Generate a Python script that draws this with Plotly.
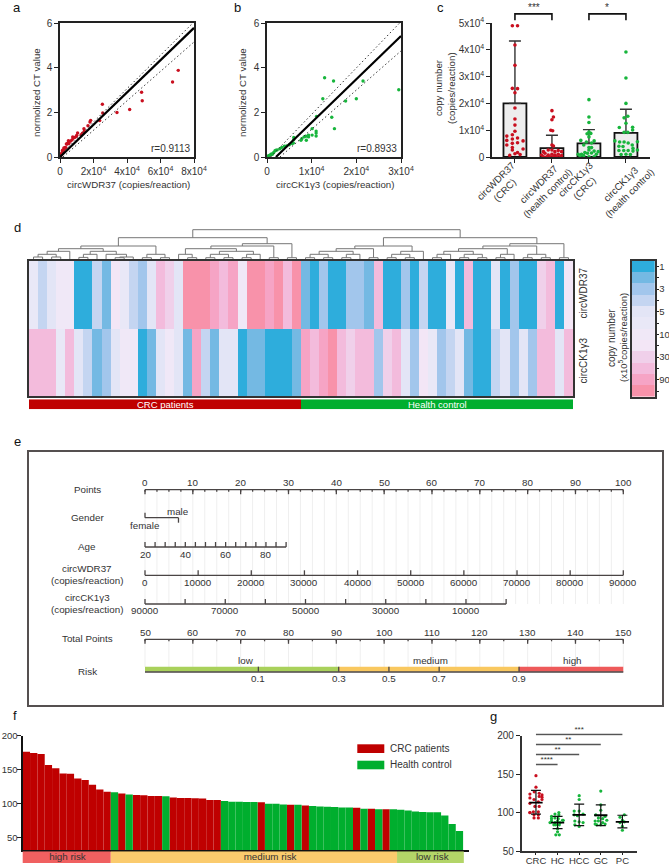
import plotly.graph_objects as go

W, H = 669, 866
FONT = "Liberation Sans"
TXT = "#333333"
LINE = "#222222"
RED = "#C90F1F"
GREEN = "#17B53C"
BAR_RED = "#BF0000"
BAR_GREEN = "#00AE2E"

# ---------- panel a / b ----------
a_x = [70600,67200,48700,49100,41600,34000,25300,25500,23700,18300,17900,16700,14300,14500,13400,12600,10500,10000,9700,9000,8000,7600,7300,6500,5800,5300,5000,4600,4200,3800,3500,3000,2600,2300,2000,1800,1500,1300,1000,800,600,400,300,200,100]
a_y = [3.88,3.36,2.9,2.52,2.13,1.99,2.36,1.97,1.63,1.64,1.57,1.4,1.27,1.15,1.07,1.0,1.08,0.97,0.93,0.88,0.85,0.9,0.78,0.72,0.7,0.6,0.73,0.62,0.58,0.58,0.42,0.43,0.36,0.4,0.3,0.25,0.3,0.2,0.15,0.12,0.1,0.08,0.05,0.03,0.02]
a_fit_x, a_fit_y = [0, 80000], [0, 5.78]
a_hi_x, a_hi_y = [0, 80000], [0.07, 6.05]
a_lo_x, a_lo_y = [1800, 80000], [0, 5.15]

b_x = [29500,12900,14900,21500,12500,17600,20000,14500,15100,11100,10100,11000,11000,11000,10100,9300,9300,8700,8800,8300,7600,7800,6000,6000,5900,5600,5000,4400,3900,3300,2900,2300,1800,1500,1000,800,500,200,2000,1200]
b_y = [3.01,3.55,3.4,3.4,2.61,2.51,2.61,1.78,1.27,1.82,1.27,1.16,1.07,0.94,0.98,0.98,0.9,0.93,0.75,0.9,0.75,0.82,0.78,0.87,0.63,0.6,0.55,0.5,0.48,0.43,0.37,0.32,0.28,0.2,0.14,0.1,0.07,0.04,0.3,0.12]
b_fit_x, b_fit_y = [2000, 30000], [0, 5.42]
b_hi_x, b_hi_y = [800, 29600], [0, 5.98]
b_lo_x, b_lo_y = [2900, 30000], [0, 4.75]

# ---------- panel c ----------
c_cats = ["circWDR37<br>(CRC)", "circWDR37<br>(health control)", "circCK1γ3<br>(CRC)", "circCK1γ3<br>(health control)"]
c_means = [20000, 3300, 5100, 9000]
c_err = [23300, 4800, 5100, 8800]
c1_v = [49000,49000,41800,34200,25600,25500,24000,18300,14200,11900,9600,8300,7800,7100,6000,6200,6700,5100,5300,4500,3500,2600,3000,1700,1200,900,600]
c1_d = [-.07,.07,0,0,-.07,.07,0,0,0,0,0,-.07,-.22,.07,.22,-.22,-.07,-.07,.07,-.22,-.07,-.07,.22,.07,0,.14,-.14]
c2_v = [17300,14900,13900,10000,9800,4500,4100,2600,2600,2000,2000,2400,2000,750,1400,750,1000,750,1000,500,120,120,120,120,120,120]
c2_d = [0,.04,0,-.03,.02,0,.04,-.1,0,-.23,.08,.17,.26,-.28,-.19,-.1,0,.08,.17,.26,-.23,-.14,-.05,.04,.13,.22]
c3_v = [21400,14900,12900,9300,8700,8800,7500,6200,5600,5200,6000,4500,3500,3500,1700,2600,2200,2000,1000,1000,1400,1500,1000,120,120,120,500]
c3_d = [0,0,0,0,-.05,.05,0,-.22,-.07,.07,.14,-.14,0,.07,-.11,0,.14,.25,-.29,-.2,-.04,.07,.2,0,.14,-.24,-.14]
c4_v = [39200,29500,20000,15200,14600,12600,11000,11100,10100,9200,9200,6000,5600,5600,5200,5700,4500,4000,3900,3200,2600,2400,2400,2400,2200,900,1000,900]
c4_d = [0,0,0,.05,-.05,0,-.18,.18,.18,-.05,.05,-.3,-.17,-.05,.06,.31,.17,-.19,-.08,.19,.31,-.19,-.06,.06,.19,-.13,0,.12]
c_sig = [(0, 1, "***"), (2, 3, "*")]

# ---------- panel d ----------
d_rows = ["circWDR37", "circCK1γ3"]
d_wdr = [5,3,4,6,6,0,0,3,1,7,5,3,2,4,9,8,4,11,11,11,10,9,10,6,11,11,10,11,9,11,
         1,0,2,0,0,2,2,1,9,0,0,2,0,3,0,0,5,0,9,0,0,4,0,2,0,0,8,9,0,7]
d_ck = [9,9,9,5,9,4,3,1,2,4,6,6,0,1,4,6,4,1,10,3,1,4,4,0,1,1,0,0,0,1,
        10,9,10,11,9,8,9,9,2,8,9,4,2,7,5,2,3,4,1,0,0,3,4,2,4,2,9,9,4,9]
d_colors = ["#2EADDC","#74B9E3","#A2C6EC","#C4D5F1","#E3E5F6","#E9E8F7","#F0E8F7","#F3E6F6","#F0D0EA","#F3BBDC","#F6A4C5","#F892AA"]
d_scale_vals = [0,2,4,6,8,10]
d_scale_labels = ["1","3","5","10","30","90"]
d_scale_minor = [1,3,5,7,9,11]
# merge tree: (height above the heatmap, left, right); integers are columns
d_tree = (31.3,
  (23.3,
    (15.0,
      (12.3,
        (9.7, (6.7, (4.0, 0, 1), (4.0, 2, 3)), 4),
        (9.7, (6.7, (3.6, 5, 6), 7), (6.7, 8, (4.0, (3.3, 9, 10), 11)))),
      (6.7, (3.3, 12, 13), (3.3, 14, 15))),
    (17.3,
      (15.0,
        (12.3,
          (6.7, 16, (3.3, 17, 18)),
          (9.7, (6.7, (3.3, 19, 20), (3.3, 21, 22)), (6.7, (3.3, 23, 24), 25))),
        (3.3, 26, 27)),
      (3.3, 28, 29))),
  (23.3,
    (15.0,
      (12.3,
        (9.7,
          (6.7, (3.3, 30, 31), (3.3, 32, 33)),
          (6.7, (3.3, 34, 35), 36)),
        (3.3, 37, 38)),
      (9.7, (6.7, (3.3, 39, 40), (3.3, 41, 42)), 43)),
    (17.3,
      (15.0,
        (12.3,
          (9.7, (6.7, (3.3, 44, 45), 46), (6.7, (3.3, 47, 48), (3.3, 49, 50))),
          (6.7, (3.3, 51, 52), 53)),
        (6.7, (3.3, 54, 55), (3.3, 56, 57))),
      (3.3, 58, 59))))
d_groups = ["CRC patients", "Health control"]
d_group_mid = [14.5, 44.5]
d_group_n = [30, 30]

# ---------- panel e ----------
e_points = list(range(0, 101, 10))
e_age = [20,25,30,35,40,45,50,55,60,65,70,75,80,85,90]
e_age_lab = [20,40,60,80]
e_wdr = list(range(0, 90001, 10000))
e_ck = [90000,80000,70000,60000,50000,40000,30000,20000,10000,0]
e_ck_lab = [90000,70000,50000,30000,10000]
e_total = list(range(50, 151, 10))
e_risk_lab = ["0.1","0.3","0.5","0.7","0.9"]
e_risk_pts = [23.7,40.5,51.0,61.5,78.2]
e_seg_names = ["low","medium","high"]
e_seg_edges = [0,40.5,78.2,100]
e_seg_cols = ["#A9D15B","#F9C85F","#EE5A5A"]
e_seg_lab_pts = [21.2,59.6,89.3]

# ---------- panel f ----------
f_vals = [176.4,174.5,173,157,152,144.6,144,137,135,128,121,117.6,116.7,115,113.7,112.7,112.3,111.3,111.3,110.8,109.3,108.3,108.3,108,107.6,105.6,105.5,
          104,103,103,102.5,102.5,102,100,100,99,98.5,98.5,97.5,96.6,96,95.6,95,94.6,94.6,94,92.6,92.6,92,92,91.7,91.2,90.2,88.7,87.7,87.3,87.3,82.8,70,59.8]
f_crc = list(range(12)) + [13,15,16,17,18] + list(range(20,27)) + [32,36,38,45,47,49]
f_strip_names = ["high risk","medium risk","low risk"]
f_strip_edges = [-0.64,11.5,50.5,59.6]
f_strip_cols = ["#F06060","#FBCB6D","#B3D568"]
f_strip_lab = [5.6,33.2,55.3]
f_legend = ["CRC patients","Health control"]

# ---------- panel g ----------
g_cats = ["CRC","HC","HCC","GC","PC"]
g_mean = [113,87,97,96.5,88]
g_up = [16,8,14,13.5,8.5]
g_dn = [15,8,14,13.5,8]
g_sets = [
 ([148,133,124,127,125,123,120,121,119,117,117,112,114,108,108,100,101,101,97,97,93,93,100],
  [0,0,-.28,-.08,.15,.28,.28,.15,-.28,-.09,.28,-.28,.11,-.05,.15,-.28,-.12,.11,-.09,.11,-.09,.11,-.28]),
 ([100,98,97,95,93,92,92,90,89,89,87,87,90,87,84,84,84,79,75,71,71],
  [.06,-.12,.06,-.28,-.12,-.28,.03,.23,0,-.28,-.12,.11,.26,-.35,-.08,-.17,.08,0,0,.08,-.08]),
 ([122,117,102,102,97,98,96,89,88,87,82,84],
  [0,0,-.23,0,-.23,.18,-.08,-.2,0,.18,0,-.2]),
 ([128,110,103,97,95,93,92,89,90,89,87,84,84,85,85],
  [0,0,0,-.23,.2,-.11,.09,-.26,.28,-.11,.09,-.18,0,.2,-.26]),
 ([97,94,90,88,87,82,77],
  [.09,-.11,0,.09,-.11,0,0]),
]
g_sig = [(0,4,201.5,"***"),(0,3,188.5,"**"),(0,2,175.5,"**"),(0,1,162.5,"****")]


def xd(x0, x1):
    return [x0 / W, x1 / W]

def yd(top, bottom):
    return [1 - bottom / H, 1 - top / H]

def ax(**k):
    d = dict(showgrid=False, zeroline=False, linecolor=LINE, linewidth=1.5, ticks="outside",
             ticklen=4, tickwidth=1.2, tickcolor=LINE, color=TXT,
             tickfont=dict(family=FONT, size=10, color=TXT))
    d.update(k)
    return d

def hidden(**k):
    d = dict(visible=False, showgrid=False, zeroline=False)
    d.update(k)
    return d

anns, shapes, traces = [], [], []

def note(px, py, text, size=10, angle=0, color=TXT, anchor="center"):
    anns.append(dict(x=px / W, y=1 - py / H, xref="paper", yref="paper", text=text, showarrow=False,
                     textangle=angle, xanchor=anchor, yanchor="middle",
                     font=dict(family=FONT, size=size, color=color)))

layout = dict(width=W, height=H, margin=dict(l=0, r=0, t=0, b=0, autoexpand=False), autosize=False,
              paper_bgcolor="white", plot_bgcolor="white", showlegend=False, barmode="overlay",
              font=dict(family=FONT, size=10, color=TXT))

# ---------- a / b ----------
def scatter_panel(n, xs, ys, col, fit, hi, lo, x_dom, xmax, tickv, tickt, xtitle, xc, rtext, rx, ylx, lab, labx):
    sfx = "" if n == 1 else str(n)
    layout["xaxis" + sfx] = ax(domain=xd(*x_dom), range=[0, xmax], tickvals=tickv, ticktext=tickt,
                               mirror=True, anchor="y" + sfx)
    layout["yaxis" + sfx] = ax(domain=yd(23, 157), range=[0, 6], tickvals=[0, 2, 4, 6],
                               mirror=True, anchor="x" + sfx)
    k = dict(xaxis="x" + sfx, yaxis="y" + sfx)
    traces.append(go.Scatter(x=xs, y=ys, mode="markers", marker=dict(color=col, size=3.4), **k))
    for pair in (hi, lo):
        traces.append(go.Scatter(x=pair[0], y=pair[1], mode="lines",
                                 line=dict(color="#333333", width=1, dash="1.5px,2.5px"), **k))
    traces.append(go.Scatter(x=fit[0], y=fit[1], mode="lines", line=dict(color="black", width=2.2), **k))
    note(xc, 184, xtitle, size=9.7)
    note(ylx, 93, "normolized CT value", angle=-90, size=9.7)
    note(rx, 149, rtext)
    note(labx, 7, lab, size=13, color="#111111")

scatter_panel(1, a_x, a_y, RED, (a_fit_x, a_fit_y), (a_hi_x, a_hi_y), (a_lo_x, a_lo_y), (60, 194), 80000,
              [0, 20000, 40000, 60000, 80000], ["0", "2x10<sup>4</sup>", "4x10<sup>4</sup>", "6x10<sup>4</sup>", "8x10<sup>4</sup>"],
              "circWDR37 (copies/reaction)", 128, "r=0.9113", 170, 37, "a", 17)
scatter_panel(2, b_x, b_y, GREEN, (b_fit_x, b_fit_y), (b_hi_x, b_hi_y), (b_lo_x, b_lo_y), (267, 401), 30000,
              [0, 10000, 20000, 30000], ["0", "1x10<sup>4</sup>", "2x10<sup>4</sup>", "3x10<sup>4</sup>"],
              "circCK1γ3 (copies/reaction)", 335, "r=0.8933", 377, 243, "b", 237)

# ---------- c ----------
layout["xaxis3"] = ax(domain=xd(492, 650), range=[-0.62, 3.65], tickvals=[0, 1, 2, 3], showticklabels=False, anchor="y3")
layout["yaxis3"] = ax(domain=yd(23, 157), range=[0, 50000], tickvals=[0, 10000, 20000, 30000, 40000, 50000],
                      ticktext=["0"] + [f"{i}x10<sup>4</sup>" for i in range(1, 6)], anchor="x3")
k3 = dict(xaxis="x3", yaxis="y3")
traces.append(go.Bar(x=[0, 1, 2, 3], y=c_means, width=0.62,
                     marker=dict(color="#EDEDED", line=dict(color="#111111", width=1.8)),
                     error_y=dict(type="data", symmetric=False, array=c_err, arrayminus=[0, 0, 0, 0],
                                  color="#333333", thickness=1.4, width=6), **k3))
for i, (vals, offs) in enumerate([(c1_v, c1_d), (c2_v, c2_d), (c3_v, c3_d), (c4_v, c4_d)]):
    traces.append(go.Scatter(x=[i + d for d in offs], y=vals, mode="markers",
                             marker=dict(color=RED if i < 2 else GREEN, size=3.6), cliponaxis=False, **k3))
# brackets sit above the value axis, on an axis of their own continuing the same scale
layout["xaxis12"] = hidden(domain=xd(492, 650), range=[-0.62, 3.65], anchor="y12")
layout["yaxis12"] = hidden(domain=yd(4, 23), range=[50000, 50000 + 19 * 50000 / 134], anchor="x12")
for a, b, star in c_sig:
    traces.append(go.Scatter(x=[a, a, b, b], y=[51000, 53400, 53400, 51000], mode="lines",
                             line=dict(color="#111111", width=1.6), xaxis="x12", yaxis="y12"))
note(534, 8, c_sig[0][2], size=10)
note(607, 8, c_sig[1][2], size=10)
note(438, 88, "copy number", angle=-90, size=9.7)
note(451, 88, "(copies/reaction)", angle=-90, size=9.7)
note(440, 8, "c", size=13, color="#111111")
for (cx, cy), t in zip([(500, 186), (543, 189), (580, 184), (625, 189)], c_cats):
    note(cx, cy, t, angle=-45, size=9.7)

# ---------- d ----------
HM = (29, 573)
layout["xaxis4"] = hidden(domain=xd(*HM), range=[-0.5, 59.5], anchor="y4")
layout["yaxis4"] = hidden(domain=yd(229, 261), range=[0, 32], anchor="x4")
dx, dy = [], []
def walk(node):
    if isinstance(node, int):
        return node, 0
    h, l, r = node
    xl, hl = walk(l)
    xr, hr = walk(r)
    dx.extend([xl, xl, xr, xr, None])
    dy.extend([hl, h, h, hr, None])
    return (xl + xr) / 2, h
walk(d_tree)
traces.append(go.Scatter(x=dx, y=dy, mode="lines", line=dict(color="#777777", width=1),
                         xaxis="x4", yaxis="y4"))

n_lv = len(d_colors)
scale = []
for i, c in enumerate(d_colors):
    scale += [[i / n_lv, c], [(i + 1) / n_lv, c]]
layout["xaxis5"] = ax(domain=xd(*HM), range=[-0.5, 59.5], showticklabels=False, ticks="", mirror=True,
                      anchor="y5", linecolor="#333333")
layout["yaxis5"] = ax(domain=yd(261, 396), range=[1.5, -0.5], tickvals=[0, 1], ticktext=d_rows, side="right",
                      tickangle=-90, ticks="", mirror=True, anchor="x5", linecolor="#333333")
traces.append(go.Heatmap(z=[d_wdr, d_ck], x=list(range(60)), y=[0, 1], colorscale=scale, zmin=-0.5,
                         zmax=n_lv - 0.5, showscale=False, xaxis="x5", yaxis="y5"))

layout["xaxis6"] = hidden(domain=xd(*HM), range=[-0.5, 59.5], anchor="y6")
layout["yaxis6"] = hidden(domain=yd(399.3, 409.3), range=[0, 1], anchor="x6")
traces.append(go.Bar(x=d_group_mid, y=[1, 1], width=d_group_n, marker=dict(color=[BAR_RED, BAR_GREEN], line=dict(width=0)),
                     xaxis="x6", yaxis="y6"))
for mid, t in zip(d_group_mid, d_groups):
    anns.append(dict(x=mid, y=0.5, xref="x6", yref="y6", text=t, showarrow=False, yanchor="middle",
                     font=dict(family=FONT, size=9.5, color="white")))

layout["xaxis7"] = ax(domain=xd(631.7, 655), range=[0, 1], showticklabels=False, ticks="", mirror=True, anchor="y7",
                      linecolor="#333333")
layout["yaxis7"] = ax(domain=yd(260.7, 396.7), range=[n_lv - 0.5, -0.5], side="right", tickvals=d_scale_vals,
                      ticktext=d_scale_labels, ticklen=2.5, tickwidth=1, ticklabelstandoff=-2,
                      minor=dict(tickvals=d_scale_minor, ticks="outside", ticklen=2, tickwidth=1, tickcolor=LINE),
                      mirror=True, anchor="x7", linecolor="#333333",
                      tickfont=dict(family=FONT, size=9.5, color=TXT))
traces.append(go.Heatmap(z=[[i] for i in range(n_lv)], x=[0.5], y=list(range(n_lv)), colorscale=scale, zmin=-0.5,
                         zmax=n_lv - 0.5, showscale=False, xaxis="x7", yaxis="y7"))
note(612, 338, "copy number", angle=-90)
note(623, 338, "(x10<sup>5</sup>copies/reaction)", angle=-90, size=9.5)
note(17, 227, "d", size=13, color="#111111")

# ---------- e ----------
P0, PXU = 145.0, 4.783
layout["xaxis8"] = ax(domain=xd(29, 662), range=[(29 - P0) / PXU, (662 - P0) / PXU], showticklabels=False, ticks="",
                      mirror=True, anchor="y8", linecolor="#555050")
layout["yaxis8"] = ax(domain=yd(452, 705), range=[705, 452], showticklabels=False, ticks="", mirror=True, anchor="x8",
                      linecolor="#555050")
k8 = dict(xaxis="x8", yaxis="y8")
def enote(p, row, text, size=9.8, anchor="center"):
    anns.append(dict(x=p, y=row, xref="x8", yref="y8", text=text, showarrow=False, xanchor=anchor, yanchor="middle",
                     font=dict(family=FONT, size=size, color=TXT)))
R_P, R_G, R_A, R_W, R_C, R_T, R_R = 489.7, 517.7, 547, 575.3, 604, 639.3, 671.7
gx, gy = [], []
for i in range(41):
    gx += [i * 2.5, i * 2.5, None]
    gy += [R_P, R_C, None]
for i in range(21):
    gx += [i * 5, i * 5, None]
    gy += [R_T, 667, None]
traces.append(go.Scatter(x=gx, y=gy, mode="lines", line=dict(color="#EFEFEF", width=1), **k8))
lx, ly = [], []
def hline(a, b, r):
    lx.extend([a, b, None]); ly.extend([r, r, None])
def tick(p, r, d):
    lx.extend([p, p, None]); ly.extend([r, r + d, None])
hline(0, 100, R_P)
for v in e_points:
    tick(v, R_P, 4.5); enote(v, 482.7, str(v))
for i in range(41):
    tick(i * 2.5, R_P, 2)
hline(0, 7, R_G); tick(0, R_G, -5); tick(7, R_G, 5)
enote(7, 511.7, "male"); enote(0, 525.3, "female")
def age_pt(v): return (v - 20) / 70 * 29.5
hline(age_pt(e_age[0]), age_pt(e_age[-1]), R_A)
for v in e_age:
    tick(age_pt(v), R_A, -5)
for v in e_age_lab:
    enote(age_pt(v), 554, str(v))
hline(0, 100, R_W)
for v in e_wdr:
    tick(v / 900, R_W, -5); enote(v / 900, 582.3, str(v))
def ck_pt(v): return (90000 - v) / 90000 * 75.5
hline(ck_pt(e_ck[0]), ck_pt(e_ck[-1]), R_C)
for v in e_ck:
    tick(ck_pt(v), R_C, -5)
for v in e_ck_lab:
    enote(ck_pt(v), 610.7, str(v))
hline(0, 100, R_T)
for v in e_total:
    tick(v - 50, R_T, 4.5); enote(v - 50, 632, str(v))
for i in range(21):
    tick(i * 5, R_T, 2)
hline(0, 100, R_R + 0.3)
for p, t in zip(e_risk_pts, e_risk_lab):
    tick(p, R_R, -5); enote(p, 678, t)
for i, col in enumerate(e_seg_cols):
    traces.append(go.Scatter(x=[e_seg_edges[i], e_seg_edges[i + 1]], y=[669.2, 669.2], mode="lines",
                             line=dict(color=col, width=5), **k8))
    enote(e_seg_lab_pts[i], 660, e_seg_names[i])
traces.append(go.Scatter(x=lx, y=ly, mode="lines", line=dict(color="#4A4545", width=1.3), **k8))
lab_p = (87 - P0) / PXU
for r, t in [(489, "Points"), (517, "Gender"), (546, "Age"), (568.7, "circWDR37"), (580.7, "(copies/reaction)"),
             (597.3, "circCK1γ3"), (609.3, "(copies/reaction)"), (638.3, "Total Points"), (671, "Risk")]:
    enote(lab_p, r, t)
note(17, 441, "e", size=13, color="#111111")

# ---------- f ----------
BW = 7.34
layout["xaxis9"] = ax(domain=xd(22.7, 468.7), range=[-0.5, -0.5 + 446 / BW], showticklabels=False, ticks="", anchor="y9",
                      linecolor="#111111")
layout["yaxis9"] = ax(domain=yd(735.7, 850.3), range=[31.5, 200], tickvals=[50, 100, 150, 200], anchor="x9",
                      linecolor="#111111", ticklen=3.5, ticklabelstandoff=-2,
                      tickfont=dict(family=FONT, size=9.5, color=TXT))
crc_set = set(f_crc)
hc_idx = [i for i in range(len(f_vals)) if i not in crc_set]
traces.append(go.Bar(x=f_crc, y=[f_vals[i] for i in f_crc], width=1, marker=dict(color=BAR_RED, line=dict(width=0)),
                     name=f_legend[0], xaxis="x9", yaxis="y9"))
traces.append(go.Bar(x=hc_idx, y=[f_vals[i] for i in hc_idx], width=1, marker=dict(color=BAR_GREEN, line=dict(width=0)),
                     name=f_legend[1], xaxis="x9", yaxis="y9"))
layout["xaxis10"] = hidden(domain=xd(22.7, 468.7), range=[-0.5, -0.5 + 446 / BW], anchor="y10")
layout["yaxis10"] = hidden(domain=yd(851.3, 863), range=[0, 1], anchor="x10")
for i, c in enumerate(f_strip_cols):
    a, b = f_strip_edges[i], f_strip_edges[i + 1]
    traces.append(go.Bar(x=[(a + b) / 2], y=[1], width=b - a, marker=dict(color=c, line=dict(width=0)),
                         cliponaxis=False, xaxis="x10", yaxis="y10"))
traces.append(go.Scatter(x=f_strip_lab, y=[0.5, 0.5, 0.5], mode="text", text=f_strip_names,
                         textfont=dict(family=FONT, size=9.8, color=TXT), xaxis="x10", yaxis="y10"))
for (t, b), c, name, ty in zip([(744.3, 753), (760.7, 769.3)], [BAR_RED, BAR_GREEN], f_legend, [748.3, 764.3]):
    shapes.append(dict(type="rect", xref="paper", yref="paper", x0=357.3 / W, x1=384.3 / W, y0=1 - b / H, y1=1 - t / H,
                       fillcolor=c, line=dict(width=0)))
    note(387.7, ty, name, anchor="left")
note(15, 715, "f", size=13, color="#111111")

# ---------- g ----------
layout["xaxis11"] = ax(domain=xd(521.7, 637.3), range=[-0.66, 4.69], tickvals=list(range(5)), ticktext=g_cats, anchor="y11",
                       ticklen=2.5, ticklabelstandoff=-3, linecolor="#333333", tickfont=dict(family=FONT, size=9.5, color=TXT))
layout["yaxis11"] = ax(domain=yd(735.7, 851), range=[50, 200], tickvals=[50, 100, 150, 200], anchor="x11",
                       ticklen=4, linecolor="#333333")
k11 = dict(xaxis="x11", yaxis="y11")
for i, (vals, offs) in enumerate(g_sets):
    traces.append(go.Scatter(x=[i + d for d in offs], y=vals, mode="markers",
                             marker=dict(color=RED if i == 0 else GREEN, size=3.2), **k11))
traces.append(go.Scatter(x=list(range(5)), y=g_mean, mode="markers",
                         marker=dict(symbol="line-ew", size=9.5, color="black", line=dict(color="black", width=1.8)),
                         error_y=dict(type="data", symmetric=False, array=g_up, arrayminus=g_dn, color="#111111",
                                      thickness=1.2, width=5), **k11))
layout["xaxis13"] = hidden(domain=xd(521.7, 637.3), range=[-0.66, 4.69], anchor="y13")
layout["yaxis13"] = hidden(domain=yd(725, 735.7), range=[200, 200 + 10.7 * 150 / 115.3], anchor="x13")
for a, b, v, star in g_sig:
    kk = dict(xaxis="x13", yaxis="y13") if v > 200 else k11
    traces.append(go.Scatter(x=[a, b], y=[v, v], mode="lines", line=dict(color="#555555", width=1.6), **kk))
    traces.append(go.Scatter(x=[(a + b) / 2], y=[v + 1], mode="text", text=[star], textposition="top center",
                             textfont=dict(family=FONT, size=8, color=TXT), cliponaxis=False, **kk))
note(493, 716, "g", size=13, color="#111111")

layout["annotations"] = anns
layout["shapes"] = shapes
fig = go.Figure(data=traces, layout=layout)
fig.write_html("out.html", config={"displayModeBar": False}, post_script="document.body.style.margin='0';")
